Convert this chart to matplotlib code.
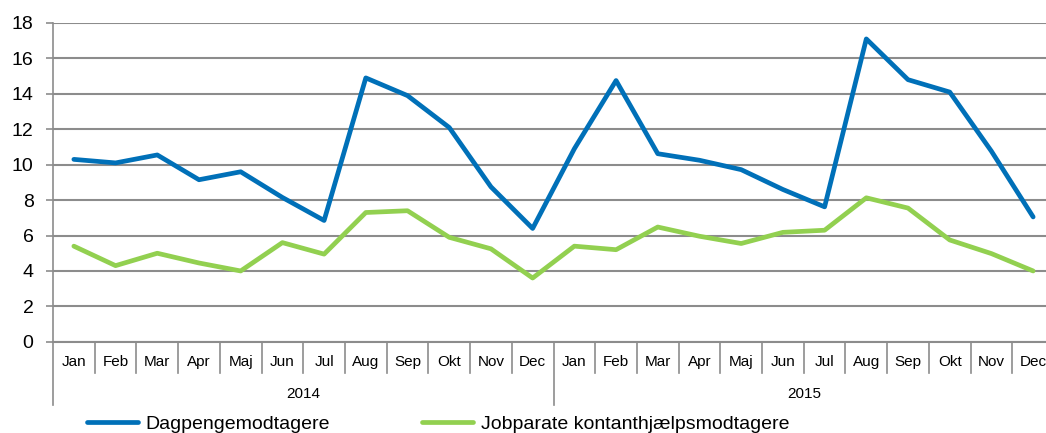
import matplotlib
matplotlib.use('Agg')
import matplotlib.pyplot as plt

plt.rcParams['font.family'] = ['Liberation Sans', 'DejaVu Sans']

months = ['Jan', 'Feb', 'Mar', 'Apr', 'Maj', 'Jun', 'Jul', 'Aug', 'Sep', 'Okt', 'Nov', 'Dec']
years = ['2014', '2015']
dagpenge = [10.3, 10.1, 10.55, 9.15, 9.6, 8.15, 6.85, 14.9, 13.9, 12.1, 8.75, 6.4,
            10.9, 14.75, 10.62, 10.25, 9.72, 8.6, 7.62, 17.1, 14.8, 14.1, 10.76, 7.05]
jobparate = [5.4, 4.3, 5.0, 4.45, 4.0, 5.6, 4.95, 7.3, 7.4, 5.9, 5.25, 3.6,
             5.4, 5.2, 6.48, 5.96, 5.55, 6.18, 6.3, 8.13, 7.55, 5.75, 4.98, 4.0]

blue = '#0070b8'
green = '#92d050'
grid = '#8c8c8c'

labels = [m for y in years for m in months]
x = list(range(len(labels)))

fig = plt.figure(figsize=(10.46, 4.33), dpi=100)
ax = fig.add_axes([53 / 1046, 1 - 341.8 / 433, 1001 / 1046, 318.8 / 433])

ax.plot(x, dagpenge, color=blue, lw=3.4, solid_joinstyle='round', solid_capstyle='round',
        label='Dagpengemodtagere', zorder=3)
ax.plot(x, jobparate, color=green, lw=3.4, solid_joinstyle='round', solid_capstyle='round',
        label='Jobparate kontanthjælpsmodtagere', zorder=3)

ax.set_xlim(-0.5, len(x) - 0.5)
ax.set_ylim(0, 18)
ax.set_yticks(range(0, 19, 2))
ax.yaxis.grid(True, color=grid, lw=1.5)
ax.set_axisbelow(True)
for s in ['top', 'right']:
    ax.spines[s].set_visible(False)
ax.spines['left'].set_color(grid)
ax.spines['left'].set_linewidth(1.2)
ax.spines['bottom'].set_color(grid)
ax.spines['bottom'].set_linewidth(1.5)
ax.tick_params(axis='y', labelsize=14, length=5, color=grid, width=1.2, pad=9)
ax.set_xticks([])

# two level category axis
tr = ax.get_xaxis_transform()
for i in range(len(x) + 1):
    low = -0.198 if i % 12 == 0 else -0.097
    ax.plot([i - 0.5, i - 0.5], [0, low], transform=tr, color=grid, lw=1.2, clip_on=False)
for i, lab in enumerate(labels):
    ax.text(i, -0.062, lab, transform=tr, ha='center', va='center', fontsize=11)
for j, yr in enumerate(years):
    ax.text(j * 12 + 5.5, -0.163, yr, transform=tr, ha='center', va='center', fontsize=11)

fig.legend(loc='center left', bbox_to_anchor=(87 / 1046, 1 - 424 / 433), ncol=2,
           frameon=False, fontsize=14, handlelength=2.6, handletextpad=0.4,
           columnspacing=4.75, borderpad=0, borderaxespad=0)

fig.savefig('out.png', dpi=100)
